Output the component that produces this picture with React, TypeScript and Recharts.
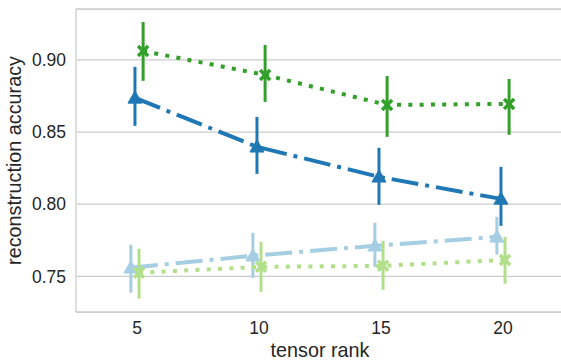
import { ComposedChart, Line, XAxis, YAxis, CartesianGrid, ErrorBar, ReferenceLine } from 'recharts';

const ranks = ['5', '10', '15', '20'];
const yTicks = [0.75, 0.8, 0.85, 0.9];

// point estimates and CI bounds per hue level
const lightBlueMean = [0.756, 0.7643, 0.7712, 0.7774];
const lightBlueLo = [0.7387, 0.749, 0.7566, 0.765];
const lightBlueHi = [0.7719, 0.7802, 0.7871, 0.7913];

const darkBlueMean = [0.8737, 0.8398, 0.819, 0.8037];
const darkBlueLo = [0.8543, 0.821, 0.7996, 0.785];
const darkBlueHi = [0.8952, 0.8605, 0.8391, 0.8259];

const lightGreenMean = [0.7525, 0.7566, 0.7573, 0.7614];
const lightGreenLo = [0.7345, 0.7393, 0.7407, 0.7449];
const lightGreenHi = [0.7691, 0.7739, 0.7746, 0.7774];

const darkGreenMean = [0.9062, 0.8896, 0.8688, 0.8695];
const darkGreenLo = [0.8855, 0.8709, 0.8467, 0.8481];
const darkGreenHi = [0.9263, 0.9104, 0.8889, 0.8868];

const FONT = '"Liberation Sans", Arial, sans-serif';
const TEXT = '#262626';
const GRID = '#cccccc';
const DODGE = 0.1;

type Marker = 'tri' | 'x';

const series = [
  { name: 'lb', color: '#a6cee3', mean: lightBlueMean, lo: lightBlueLo, hi: lightBlueHi, marker: 'tri' as Marker, dash: '27 7 4 7' },
  { name: 'db', color: '#1f78b4', mean: darkBlueMean, lo: darkBlueLo, hi: darkBlueHi, marker: 'tri' as Marker, dash: '27 7 4 7' },
  { name: 'lg', color: '#b2df8a', mean: lightGreenMean, lo: lightGreenLo, hi: lightGreenHi, marker: 'x' as Marker, dash: '4 7.3' },
  { name: 'dg', color: '#33a02c', mean: darkGreenMean, lo: darkGreenLo, hi: darkGreenHi, marker: 'x' as Marker, dash: '4 7.3' },
];

function buildData(mean: number[], lo: number[], hi: number[], k: number) {
  const n = series.length;
  const offset = (k / (n - 1)) * DODGE - DODGE / 2;
  return mean.map((m, i) => ({ x: i + offset, y: m, err: [m - lo[i], hi[i] - m] }));
}

function makeDot(marker: Marker, color: string) {
  return (props: any) => {
    const { cx, cy, index } = props;
    if (cx == null || cy == null) return <g key={index} />;
    if (marker === 'tri') {
      const s = 7;
      return (
        <polygon
          key={index}
          points={`${cx},${cy - s} ${cx - s},${cy + s * 0.75} ${cx + s},${cy + s * 0.75}`}
          fill={color}
          stroke={color}
          strokeWidth={1}
        />
      );
    }
    const s = 5;
    return (
      <g key={index} stroke={color} strokeWidth={3.6}>
        <line x1={cx - s} y1={cy - s} x2={cx + s} y2={cy + s} />
        <line x1={cx - s} y1={cy + s} x2={cx + s} y2={cy - s} />
      </g>
    );
  };
}

export default function App() {
  return (
    <div style={{ position: 'absolute', left: 0, top: 0, width: 561, height: 362, overflow: 'hidden', background: '#fff' }}>
      <ComposedChart width={570} height={362} margin={{ top: 9, right: 6, bottom: 0, left: 0 }}>
        <CartesianGrid vertical={false} stroke={GRID} strokeWidth={1.25} />
        <XAxis
          type="number"
          dataKey="x"
          domain={[-0.5, 3.5]}
          ticks={[0, 1, 2, 3]}
          tickFormatter={(v: number) => ranks[v]}
          allowDataOverflow
          height={50}
          tickLine={false}
          tickSize={6}
          tickMargin={4}
          axisLine={{ stroke: GRID, strokeWidth: 1.25 }}
          tick={{ fill: TEXT, fontSize: 17.5, fontFamily: FONT }}
          label={{
            content: () => (
              <text x={320} y={357} textAnchor="middle" fill={TEXT} fontSize={19.8} fontFamily={FONT}>
                tensor rank
              </text>
            ),
          }}
        />
        <YAxis
          type="number"
          domain={[0.7253, 0.9353]}
          ticks={yTicks}
          allowDataOverflow
          width={76}
          tickLine={false}
          tickSize={6}
          tickMargin={4}
          tickFormatter={(v: number) => v.toFixed(2)}
          axisLine={{ stroke: GRID, strokeWidth: 1.25 }}
          tick={{ fill: TEXT, fontSize: 17.5, fontFamily: FONT }}
          label={{
            content: () => (
              <text
                x={21}
                y={160.5}
                transform="rotate(-90 21 160.5)"
                textAnchor="middle"
                fill={TEXT}
                fontSize={19.8}
                fontFamily={FONT}
              >
                reconstruction accuracy
              </text>
            ),
          }}
        />
        <ReferenceLine y={0.9353} stroke={GRID} strokeWidth={1.25} ifOverflow="extendDomain" />
        {series.map((s, k) => (
          <Line
            key={s.name}
            data={buildData(s.mean, s.lo, s.hi, k)}
            dataKey="y"
            type="linear"
            stroke={s.color}
            strokeWidth={4}
            strokeDasharray={s.dash}
            dot={makeDot(s.marker, s.color)}
            activeDot={false}
            isAnimationActive={false}
          >
            <ErrorBar dataKey="err" direction="y" width={0} stroke={s.color} strokeWidth={3} />
          </Line>
        ))}
      </ComposedChart>
    </div>
  );
}
